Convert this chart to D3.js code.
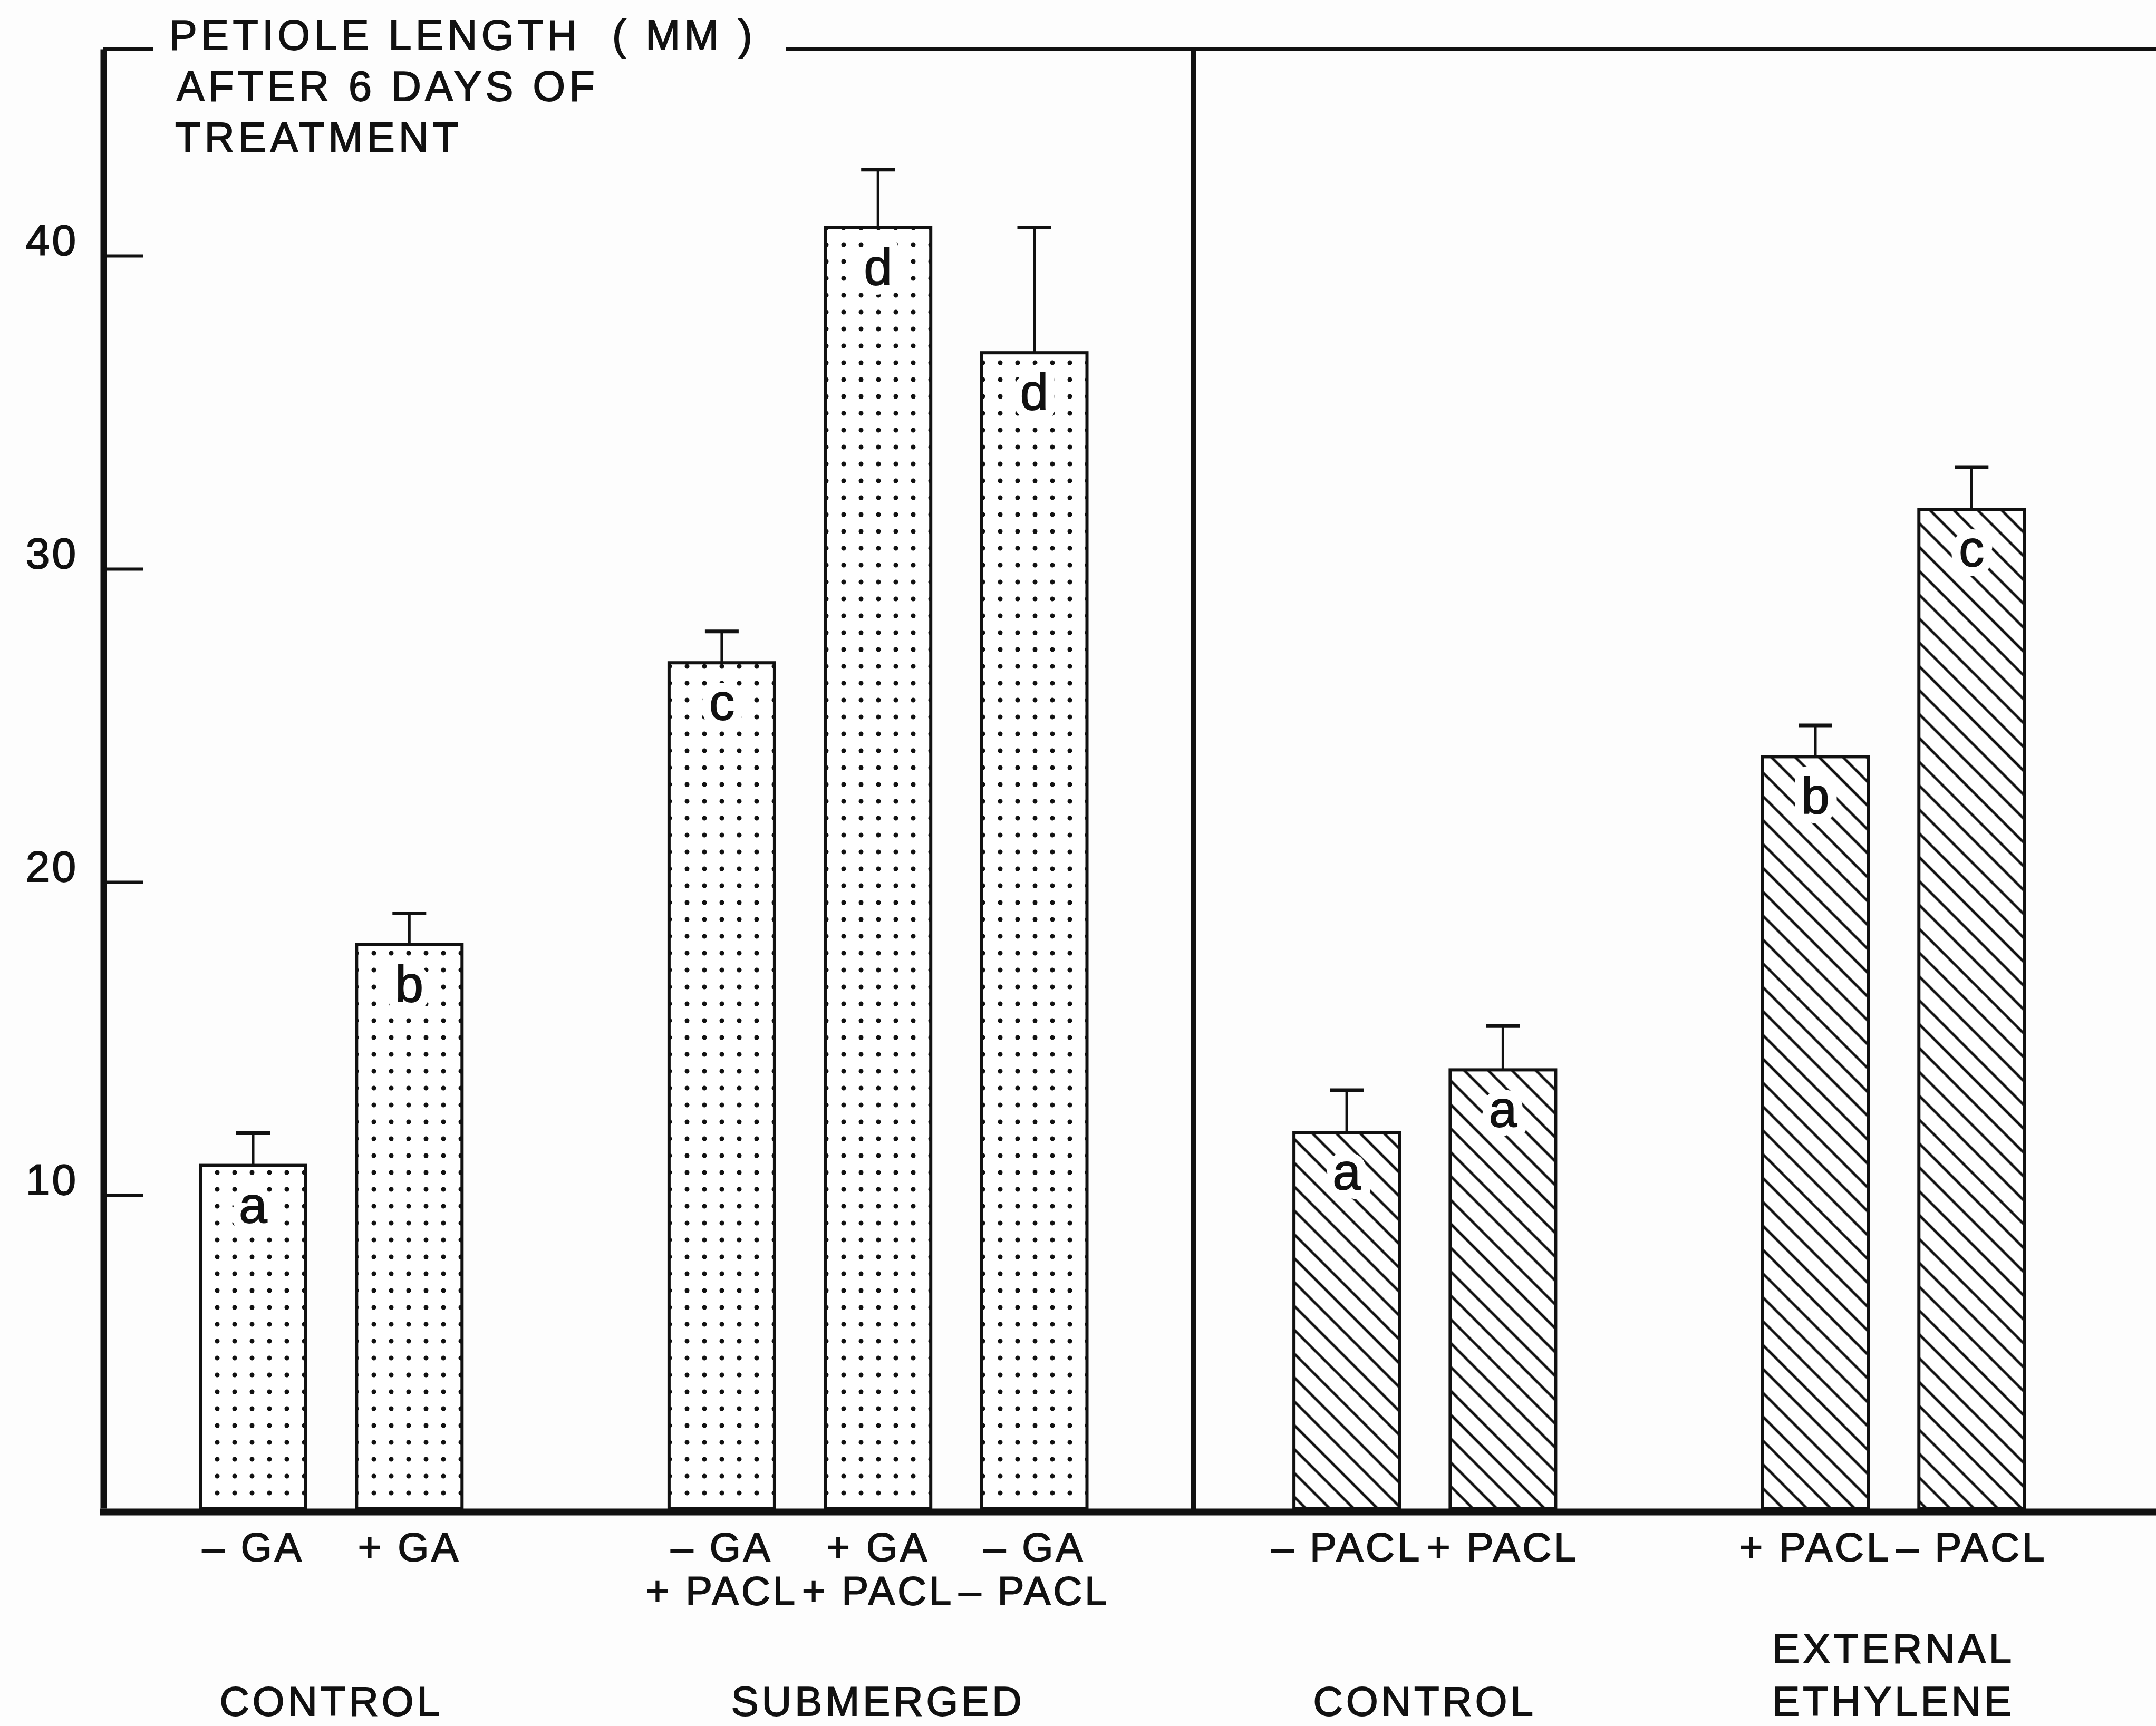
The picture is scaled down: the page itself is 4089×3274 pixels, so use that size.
<!DOCTYPE html>
<html>
<head>
<meta charset="utf-8">
<script src="https://cdn.jsdelivr.net/npm/d3@7"></script>
<style>
  html, body { margin: 0; padding: 0; background: #fdfdfd; }
  svg { display: block; }
  text { font-family: "Liberation Sans", Arial, sans-serif; fill: #111; white-space: pre; }
  text.ink { stroke: #111; stroke-width: 1.8px; }
</style>
</head>
<body>
<svg id="chart" width="4089" height="3274" viewBox="0 0 4089 3274"></svg>
<script>
// ---------------- data ----------------
const line1Labels = ["– GA", "+ GA", "– GA", "+ GA", "– GA", "– PACL", "+ PACL", "+ PACL", "– PACL"];
const line2Labels = ["", "", "+ PACL", "+ PACL", "– PACL", "", "", "", ""];
const petioleLength = [10.95, 18.0, 27.0, 40.9, 36.9, 12.0, 14.0, 24.0, 31.9];
const stdError = [1.03, 1.0, 1.0, 1.85, 4.0, 1.35, 1.4, 1.0, 1.35];
const sigLetters = ["a", "b", "c", "d", "d", "a", "a", "b", "c"];
const barGroup = [0, 0, 1, 1, 1, 2, 2, 3, 3];
const groupNames = [["CONTROL"], ["SUBMERGED"], ["CONTROL"], ["EXTERNAL", "ETHYLENE"]];
const groupPanel = [0, 0, 1, 1];
const panelFill = ["dots", "hatch"];
const yTicks = [10, 20, 30, 40];
const yTop = 46.6;
const titleLines = ["PETIOLE LENGTH  ( MM )", "AFTER 6 DAYS OF", "TREATMENT"];

// ---------------- layout ----------------
const W = 4089, H = 3274;
const axisX = 196, topY = 93, zeroY = 2861;
const svg = d3.select("#chart");
svg.append("rect").attr("width", W).attr("height", H).attr("fill", "#fdfdfd");

const defs = svg.append("defs");
const dots = defs.append("pattern").attr("id", "dots").attr("patternUnits", "userSpaceOnUse")
  .attr("width", 33).attr("height", 32);
dots.append("rect").attr("width", 33).attr("height", 32).attr("fill", "#fff");
dots.append("circle").attr("cx", 16).attr("cy", 16).attr("r", 4.5).attr("fill", "#111");

const hatch = defs.append("pattern").attr("id", "hatch").attr("patternUnits", "userSpaceOnUse")
  .attr("width", 20).attr("height", 32).attr("patternTransform", "rotate(45)");
hatch.append("rect").attr("width", 20).attr("height", 32).attr("fill", "#fff");
hatch.append("line").attr("x1", 0).attr("x2", 20).attr("y1", 16).attr("y2", 16)
  .attr("stroke", "#111").attr("stroke-width", 5);

// x domain: bars with a spacer slot between groups
const bars = petioleLength.map((v, i) => ({
  key: "b" + i, value: v, err: stdError[i], letter: sigLetters[i],
  l1: line1Labels[i], l2: line2Labels[i], group: barGroup[i],
  fill: panelFill[groupPanel[barGroup[i]]]
}));
const xDomain = [];
bars.forEach((b, i) => {
  if (i > 0 && bars[i - 1].group !== b.group) xDomain.push("gap" + b.group);
  xDomain.push(b.key);
});

const x = d3.scaleBand().domain(xDomain).range([331.85, 3887.45])
  .paddingInner(0.325).paddingOuter(0.1625);
const y = d3.scaleLinear().domain([0, yTop]).range([zeroY, topY]);
const bw = x.bandwidth();

// ---------------- frame lines ----------------
const titleEndX = 1490;
svg.append("line").attr("x1", axisX).attr("x2", 291).attr("y1", y(yTop)).attr("y2", y(yTop))
  .attr("stroke", "#111").attr("stroke-width", 7);
svg.append("line").attr("x1", titleEndX).attr("x2", W).attr("y1", y(yTop)).attr("y2", y(yTop))
  .attr("stroke", "#111").attr("stroke-width", 7);

// panel separator between panel 0 and 1
const sepGroup = groupPanel.findIndex(p => p === 1);
const sepX = x("gap" + sepGroup) + bw / 2 + 6;
svg.append("line").attr("x1", sepX).attr("x2", sepX).attr("y1", y(yTop)).attr("y2", zeroY + 6)
  .attr("stroke", "#111").attr("stroke-width", 10);

// ---------------- bars ----------------
const gBars = svg.append("g");
gBars.selectAll("rect.bar").data(bars).join("rect").attr("class", "bar")
  .attr("x", d => x(d.key)).attr("width", bw)
  .attr("y", d => y(d.value)).attr("height", d => y(0) - y(d.value))
  .attr("fill", d => `url(#${d.fill})`)
  .attr("stroke", "#111").attr("stroke-width", 6);

// error bars
gBars.selectAll("line.err").data(bars).join("line").attr("class", "err")
  .attr("x1", d => x(d.key) + bw / 2).attr("x2", d => x(d.key) + bw / 2)
  .attr("y1", d => y(d.value)).attr("y2", d => y(d.value + d.err))
  .attr("stroke", "#111").attr("stroke-width", 5);
gBars.selectAll("line.cap").data(bars).join("line").attr("class", "cap")
  .attr("x1", d => x(d.key) + bw / 2 - 32).attr("x2", d => x(d.key) + bw / 2 + 32)
  .attr("y1", d => y(d.value + d.err)).attr("y2", d => y(d.value + d.err))
  .attr("stroke", "#111").attr("stroke-width", 7);

// significance letters: white halo, then ink
const sigY = d => y(d.value) + 108;
gBars.selectAll("text.halo").data(bars).join("text").attr("class", "halo")
  .attr("x", d => x(d.key) + bw / 2).attr("y", sigY)
  .attr("text-anchor", "middle").attr("font-size", 96)
  .attr("fill", "#fff").attr("stroke", "#fff").attr("stroke-width", 36)
  .attr("stroke-linejoin", "round")
  .text(d => d.letter);
gBars.selectAll("text.sig").data(bars).join("text").attr("class", "sig ink")
  .attr("x", d => x(d.key) + bw / 2).attr("y", sigY)
  .attr("text-anchor", "middle").attr("font-size", 96)
  .text(d => d.letter);

// ---------------- axes ----------------
const yAxis = d3.axisLeft(y).tickValues(yTicks).tickSizeInner(-75).tickSizeOuter(0)
  .tickPadding(48).tickFormat(d3.format("d"));
const gy = svg.append("g").attr("transform", `translate(${axisX},0)`).call(yAxis);
gy.select(".domain").attr("stroke", "#111").attr("stroke-width", 12);
gy.selectAll(".tick line").attr("stroke", "#111").attr("stroke-width", 6);
gy.selectAll(".tick text").attr("class", "ink").attr("dy", "-0.02em").attr("font-size", 82)
  .attr("letter-spacing", 4).attr("fill", "#111")
  .style("font-family", "'Liberation Sans', Arial, sans-serif");

// baseline
svg.append("line").attr("x1", axisX - 6).attr("x2", W).attr("y1", zeroY + 7).attr("y2", zeroY + 7)
  .attr("stroke", "#111").attr("stroke-width", 13);

// category labels
svg.selectAll("text.l1").data(bars).join("text").attr("class", "l1 ink")
  .attr("x", d => x(d.key) + bw / 2).attr("y", 2961)
  .attr("text-anchor", "middle").attr("font-size", 76).attr("letter-spacing", 5)
  .text(d => d.l1);
svg.selectAll("text.l2").data(bars.filter(d => d.l2)).join("text").attr("class", "l2 ink")
  .attr("x", d => x(d.key) + bw / 2).attr("y", 3044)
  .attr("text-anchor", "middle").attr("font-size", 76).attr("letter-spacing", 5)
  .text(d => d.l2);

// group labels
groupNames.forEach((lines, g) => {
  const members = bars.filter(b => b.group === g);
  const cx = (x(members[0].key) + x(members[members.length - 1].key) + bw) / 2;
  lines.forEach((t, k) => {
    svg.append("text").attr("class", "ink").attr("x", cx).attr("y", 3254 - (lines.length - 1 - k) * 100)
      .attr("text-anchor", "middle").attr("font-size", 78).attr("letter-spacing", 6)
      .text(t);
  });
});

// title
const titleX = [321, 335, 332];
titleLines.forEach((t, k) => {
  svg.append("text").attr("class", "ink").attr("x", titleX[k]).attr("y", 94 + k * 97)
    .attr("font-size", 79).attr("letter-spacing", 7.5).text(t);
});
</script>
</body>
</html>
